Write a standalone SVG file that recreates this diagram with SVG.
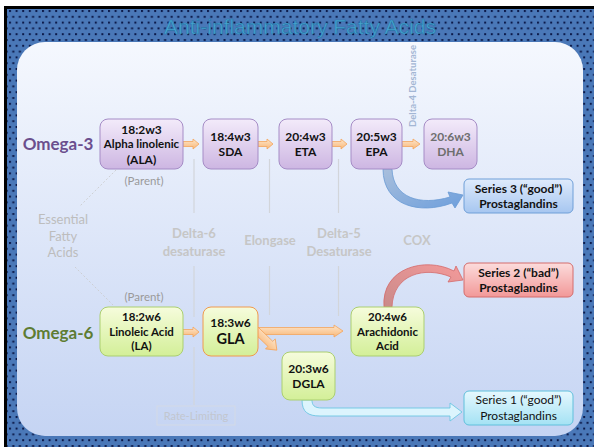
<svg xmlns="http://www.w3.org/2000/svg" width="594" height="447" viewBox="0 0 594 447">
<defs>
  <pattern id="dots" x="9" y="10" width="6.6" height="11.6" patternUnits="userSpaceOnUse">
    <rect width="6.6" height="11.6" fill="#4a78b8"/>
    <rect x="0" y="0" width="2" height="2" fill="#0c1a4a"/>
    <rect x="3.3" y="5.8" width="2" height="2" fill="#0c1a4a"/>
  </pattern>
  <linearGradient id="panel" x1="0" y1="0" x2="0" y2="1">
    <stop offset="0" stop-color="#f5f8fe"/>
    <stop offset="1" stop-color="#c5d4f3"/>
  </linearGradient>
  <linearGradient id="purple" x1="0" y1="0" x2="0" y2="1">
    <stop offset="0" stop-color="#f3ebfa"/>
    <stop offset="1" stop-color="#cdb6e2"/>
  </linearGradient>
  <linearGradient id="green" x1="0" y1="0" x2="0" y2="1">
    <stop offset="0" stop-color="#f6fcdc"/>
    <stop offset="1" stop-color="#d3ef98"/>
  </linearGradient>
  <linearGradient id="blue" x1="0" y1="0" x2="0" y2="1">
    <stop offset="0" stop-color="#dfebfc"/>
    <stop offset="1" stop-color="#a6c6f0"/>
  </linearGradient>
  <linearGradient id="red" x1="0" y1="0" x2="0" y2="1">
    <stop offset="0" stop-color="#fcdcdc"/>
    <stop offset="1" stop-color="#f29898"/>
  </linearGradient>
  <linearGradient id="cyan" x1="0" y1="0" x2="0" y2="1">
    <stop offset="0" stop-color="#e6f8fe"/>
    <stop offset="1" stop-color="#a4e2f4"/>
  </linearGradient>
  <linearGradient id="orange" x1="0" y1="0" x2="0" y2="1">
    <stop offset="0" stop-color="#fde6cc"/>
    <stop offset="1" stop-color="#f9b878"/>
  </linearGradient>
  <linearGradient id="bluearrow" x1="0" y1="0" x2="1" y2="1">
    <stop offset="0" stop-color="#a9bfdc"/>
    <stop offset="1" stop-color="#6e9fdc"/>
  </linearGradient>
  <linearGradient id="redarrow" x1="0" y1="1" x2="1" y2="0">
    <stop offset="0" stop-color="#c98a8a"/>
    <stop offset="1" stop-color="#f49a9a"/>
  </linearGradient>
</defs>
<style>
  .box { stroke-width: 1; }
  .pu { fill: url(#purple); stroke: #a58cc6; }
  .gr { fill: url(#green); stroke: #abcf70; }
  .t { font-family: Lato, "Liberation Sans", sans-serif; font-weight: bold; fill: #111; text-anchor: middle; }
  .fade { font-family: Lato, "Liberation Sans", sans-serif; font-weight: bold; fill: #c6c6c6; text-anchor: middle; font-size: 13px; }
  .gray { font-family: Lato, "Liberation Sans", sans-serif; fill: #9a9a9a; text-anchor: middle; font-size: 11.5px; }
  .vline { stroke: #d2d5da; stroke-width: 1.2; fill: none; }
  .dash { stroke: #c9c9c9; stroke-width: 0.8; stroke-dasharray: 2 2; fill: none; }
  .oarrow { fill: url(#orange); stroke: #f4a55c; stroke-width: 0.8; }
</style>

<!-- background -->
<rect x="0" y="0" width="594" height="447" fill="#ffffff"/>
<rect x="4" y="6" width="594" height="447" fill="#000000"/>
<rect x="7" y="9" width="594" height="447" fill="url(#dots)"/>
<rect x="17" y="42" width="566" height="394" rx="28" ry="28" fill="url(#panel)"/>

<text x="300" y="34" font-family="Liberation Sans, Arial, sans-serif" font-size="21" fill="#45a4d0" stroke="#2a74a8" stroke-width="0.6" text-anchor="middle">Anti-inflammatory Fatty Acids</text>

<!-- guide lines and faded labels -->
<g id="guides">
  <line class="vline" x1="194" y1="159" x2="194" y2="213"/>
  <line class="vline" x1="194" y1="266" x2="194" y2="317"/>
  <line class="vline" x1="194" y1="347" x2="194" y2="405"/>
  <line class="vline" x1="269.5" y1="159" x2="269.5" y2="213"/>
  <line class="vline" x1="269.5" y1="266" x2="269.5" y2="315"/>
  <line class="vline" x1="338.5" y1="159" x2="338.5" y2="213"/>
  <line class="vline" x1="338.5" y1="266" x2="338.5" y2="316"/>
  <line class="dash" x1="116" y1="170" x2="80" y2="206"/>
  <line class="dash" x1="75" y1="267" x2="113" y2="305"/>
</g>

<g id="label-omega3"><text x="58" y="150" font-family="Lato, 'Liberation Sans', sans-serif" font-weight="bold" font-size="17" fill="#6b4e8e" text-anchor="middle">Omega-3</text></g>
<g id="label-omega6"><text x="58" y="339" font-family="Lato, 'Liberation Sans', sans-serif" font-weight="bold" font-size="17" fill="#5e7c33" text-anchor="middle">Omega-6</text></g>
<g id="label-parent1"><text class="gray" x="144" y="185">(Parent)</text></g>
<g id="label-parent2"><text class="gray" x="144" y="301">(Parent)</text></g>
<g id="label-efa">
  <text class="fade" x="63" y="224" style="font-weight:normal;fill:#bdbdbd">Essential</text>
  <text class="fade" x="63" y="241" style="font-weight:normal;fill:#bdbdbd">Fatty</text>
  <text class="fade" x="63" y="257" style="font-weight:normal;fill:#bdbdbd">Acids</text>
</g>
<g id="label-d6"><text class="fade" x="194" y="238">Delta-6</text><text class="fade" x="194" y="256">desaturase</text></g>
<g id="label-elongase"><text class="fade" x="270" y="245">Elongase</text></g>
<g id="label-d5"><text class="fade" x="339" y="238">Delta-5</text><text class="fade" x="339" y="256">Desaturase</text></g>
<g id="label-cox"><text class="fade" x="417" y="245">COX</text></g>
<g id="label-d4"><text x="0" y="0" transform="translate(416,86) rotate(-90)" font-family="Lato, 'Liberation Sans', sans-serif" font-weight="bold" font-size="9.5" fill="#a3b6d4" text-anchor="middle">Delta-4 Desaturase</text></g>
<g id="rate-limiting">
  <rect x="157" y="406" width="78" height="19" fill="none" stroke="#d3dae6" stroke-width="1"/>
  <text x="196" y="419.5" font-family="Lato, 'Liberation Sans', sans-serif" font-size="11" fill="#c2c6cf" text-anchor="middle">Rate-Limiting</text>
</g>

<!-- connectors -->
<g id="connectors">
  <path class="oarrow" d="M183 141.5 L193 141.5 L193 139 L199 144 L193 149 L193 146.5 L183 146.5 Z"/>
  <path class="oarrow" d="M258 141.5 L267 141.5 L267 139 L273 144 L267 149 L267 146.5 L258 146.5 Z"/>
  <path class="oarrow" d="M332 141.5 L341 141.5 L341 139 L347 144 L341 149 L341 146.5 L332 146.5 Z"/>
  <path class="oarrow" d="M402 141.5 L413 141.5 L413 139 L420 144 L413 149 L413 146.5 L402 146.5 Z"/>
  <path class="oarrow" d="M183 329.5 L193 329.5 L193 327 L199 332 L193 337 L193 334.5 L183 334.5 Z"/>
  <path class="oarrow" d="M258 327.5 L334 327.5 L334 325 L343 331 L334 337 L334 334.5 L258 334.5 Z"/>
  <path class="oarrow" transform="translate(256,330) rotate(44)" d="M0 -3.5 L20 -3.5 L20 -7 L29 0 L20 7 L20 3.5 L0 3.5 Z"/>
  <path d="M383 169 C383 206, 420 215, 452 203 L455 208 L463 195 L448 192 L450 197 C420 206, 393 198, 392 169 Z" fill="url(#bluearrow)" stroke="#6a9ad4" stroke-width="0.8"/>
  <path d="M384 307 C381 268, 425 256, 454 271 L456 266 L463 280 L448 282 L451 277 C425 266, 393 274, 392 307 Z" fill="url(#redarrow)" stroke="#d46a6a" stroke-width="0.8"/>
  <path d="M302 400 C302 412, 308 416, 320 416 L450 416 L450 421 L462 412 L450 403 L450 408 L322 408 C314 408, 312 405, 312 400 Z" fill="#dcf4fd" stroke="#6cc6e2" stroke-width="0.9"/>
</g>

<!-- nodes -->
<g id="node-ala">
  <rect class="box pu" x="100" y="119" width="83" height="50" rx="8"/>
  <text class="t" x="141.5" y="134" font-size="12">18:2w3</text>
  <text class="t" x="141.5" y="148" font-size="11.5">Alpha linolenic</text>
  <text class="t" x="141.5" y="164" font-size="12">(ALA)</text>
</g>
<g id="node-sda">
  <rect class="box pu" x="203" y="119" width="55" height="50" rx="8"/>
  <text class="t" x="230.5" y="141" font-size="12">18:4w3</text>
  <text class="t" x="230.5" y="156" font-size="12">SDA</text>
</g>
<g id="node-eta">
  <rect class="box pu" x="279" y="119" width="53" height="50" rx="8"/>
  <text class="t" x="305.5" y="141" font-size="12">20:4w3</text>
  <text class="t" x="305.5" y="156" font-size="12">ETA</text>
</g>
<g id="node-epa">
  <rect class="box pu" x="351" y="119" width="51" height="50" rx="8"/>
  <text class="t" x="376.5" y="141" font-size="12">20:5w3</text>
  <text class="t" x="376.5" y="156" font-size="12">EPA</text>
</g>
<g id="node-dha">
  <rect class="box pu" x="424" y="119" width="53" height="50" rx="8"/>
  <text class="t" x="450.5" y="141" font-size="12" style="fill:#6e6e6e">20:6w3</text>
  <text class="t" x="450.5" y="156" font-size="12" style="fill:#6e6e6e">DHA</text>
</g>
<g id="node-series3">
  <rect x="464" y="179" width="109" height="34" rx="5" fill="url(#blue)" stroke="#6f9fd8"/>
  <text class="t" x="518.5" y="193" font-size="12">Series 3 (“good”)</text>
  <text class="t" x="518.5" y="208" font-size="12">Prostaglandins</text>
</g>
<g id="node-series2">
  <rect x="464" y="263" width="109" height="34" rx="5" fill="url(#red)" stroke="#d46c6c"/>
  <text class="t" x="518.5" y="277" font-size="12">Series 2 (“bad”)</text>
  <text class="t" x="518.5" y="292" font-size="12">Prostaglandins</text>
</g>
<g id="node-series1">
  <rect x="464" y="391" width="109" height="34" rx="5" fill="url(#cyan)" stroke="#60c0dc"/>
  <text class="t" x="518.5" y="404" font-size="12" style="font-weight:normal">Series 1 (“good”)</text>
  <text class="t" x="518.5" y="420" font-size="12" style="font-weight:normal">Prostaglandins</text>
</g>
<g id="node-la">
  <rect class="box gr" x="100" y="307" width="83" height="49" rx="8"/>
  <text class="t" x="141.5" y="321" font-size="11.5">18:2w6</text>
  <text class="t" x="141.5" y="336" font-size="11.5">Linoleic Acid</text>
  <text class="t" x="141.5" y="350" font-size="11.5">(LA)</text>
</g>
<g id="node-gla">
  <rect class="box" x="203" y="307" width="55" height="49" rx="8" fill="url(#green)" stroke="#f09a4e"/>
  <text class="t" x="230.5" y="327" font-size="12">18:3w6</text>
  <text class="t" x="230.5" y="344" font-size="14.5">GLA</text>
</g>
<g id="node-aa">
  <rect class="box gr" x="351" y="307" width="73" height="49" rx="8"/>
  <text class="t" x="387.5" y="321" font-size="11.5">20:4w6</text>
  <text class="t" x="387.5" y="336" font-size="11.5">Arachidonic</text>
  <text class="t" x="387.5" y="350" font-size="11.5">Acid</text>
</g>
<g id="node-dgla">
  <rect class="box gr" x="282" y="352" width="53" height="48" rx="8"/>
  <text class="t" x="308.5" y="373" font-size="12">20:3w6</text>
  <text class="t" x="308.5" y="388" font-size="12">DGLA</text>
</g>
</svg>
